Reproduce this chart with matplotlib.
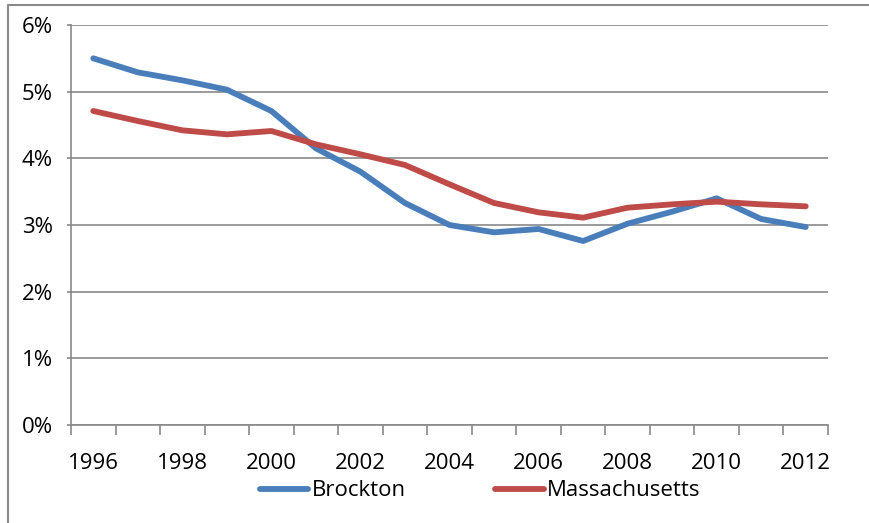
import matplotlib
matplotlib.use('Agg')
import matplotlib.pyplot as plt
from matplotlib.lines import Line2D
import numpy as np

plt.rcParams['font.family'] = ['Open Sans', 'DejaVu Sans']

years = list(range(1996, 2013))
brockton = [5.50, 5.29, 5.17, 5.03, 4.71, 4.15, 3.80, 3.33, 3.00, 2.89, 2.94,
            2.76, 3.02, 3.20, 3.40, 3.09, 2.97]
massachusetts = [4.71, 4.56, 4.42, 4.36, 4.41, 4.21, 4.06, 3.90, 3.61, 3.33, 3.19,
                 3.11, 3.26, 3.31, 3.35, 3.31, 3.28]
yticks = [0, 1, 2, 3, 4, 5, 6]

grey = '#898989'

fig = plt.figure(figsize=(8.7, 5.23), dpi=100)
ax = fig.add_axes([71/870, 1 - 425/523, (828 - 71)/870, 400/523])

x = np.arange(len(years))
ax.plot(x, brockton, color='#4a7ebb', lw=4.2, solid_capstyle='round',
        solid_joinstyle='round', label='Brockton')
ax.plot(x, massachusetts, color='#be4b48', lw=4.2, solid_capstyle='round',
        solid_joinstyle='round', label='Massachusetts')

ax.set_xlim(-0.5, len(years) - 0.5)
ax.set_ylim(0, 6)
ax.set_yticks(yticks)
ax.set_yticklabels([f'{v}%' for v in yticks])
ax.set_xticks(x[::2])
ax.set_xticklabels([str(y) for y in years[::2]])
ax.set_xticks(np.arange(-0.5, len(years), 1), minor=True)

ax.grid(axis='y', color=grey, lw=1.2)
ax.set_axisbelow(True)
for s in ['top', 'right']:
    ax.spines[s].set_visible(False)
for s in ['left', 'bottom']:
    ax.spines[s].set_color(grey)
    ax.spines[s].set_linewidth(1.2)

ax.tick_params(axis='y', length=3, width=1.2, color=grey, pad=10, labelsize=16)
ax.tick_params(axis='x', which='major', length=0, pad=20, labelsize=16)
ax.tick_params(axis='x', which='minor', length=7, width=1.2, color=grey)

fig.legend(loc='center', bbox_to_anchor=(480/870, 1 - 491/523), ncol=2,
           frameon=False, fontsize=16, handlelength=2.2, handletextpad=0.15,
           columnspacing=4.0)

# outer chart border (clipped)
fig.add_artist(Line2D([8/870, 8/870, 1], [0, 1 - 5/523, 1 - 5/523],
                      transform=fig.transFigure, color=grey, lw=1.5))

fig.savefig('out.png', dpi=100)
